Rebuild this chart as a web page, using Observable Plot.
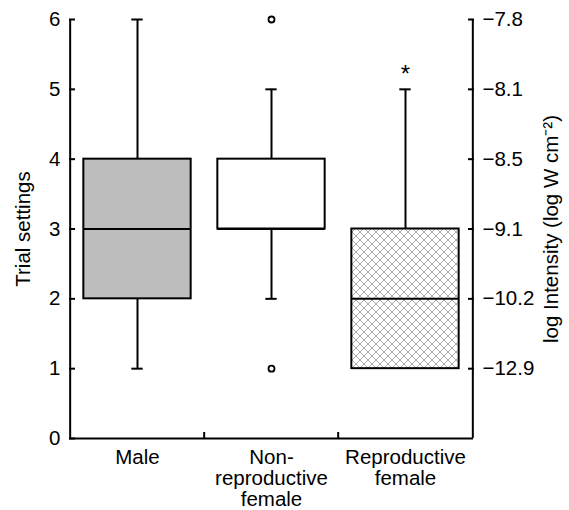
<!DOCTYPE html>
<html>
<head>
<meta charset="utf-8">
<script src="https://cdn.jsdelivr.net/npm/d3@7"></script>
<script src="https://cdn.jsdelivr.net/npm/@observablehq/plot@0.6"></script>
<style>
  html, body { margin: 0; padding: 0; background: white; }
</style>
</head>
<body>
<script>
const categories = ["Male", "Non-reproductive female", "Reproductive female"];
const categoryLabels = ["Male", "Non-\nreproductive\nfemale", "Reproductive\nfemale"];
const q1 = [2, 3, 1];
const median = [3, 3, 2];
const q3 = [4, 4, 3];
const whiskerLow = [1, 2, 1];
const whiskerHigh = [6, 5, 5];
const outlierGroup = ["Non-reproductive female", "Non-reproductive female"];
const outlierValue = [6, 1];
const significant = ["Reproductive female"];
const leftTicks = [0, 1, 2, 3, 4, 5, 6];
const rightTicks = [1, 2, 3, 4, 5, 6];
const rightTickLabels = ["\u221212.9", "\u221210.2", "\u22129.1", "\u22128.5", "\u22128.1", "\u22127.8"];

const boxes = categories.map((c, i) => ({
  cat: c, q1: q1[i], median: median[i], q3: q3[i], lo: whiskerLow[i], hi: whiskerHigh[i]
}));
const outliers = outlierGroup.map((g, i) => ({cat: g, v: outlierValue[i]}));

const W = 569, H = 510;
const mL = 69, mR = 96, mT = 19, mB = 72;
const step = (W - mL - mR) / categories.length;
const boxW = 108, capW = 12;
const boxInset = (step - boxW) / 2;
const capInset = (step - capW) / 2;
const FS = 20.5;

const hatchDefs = () => {
  const defs = document.createElementNS("http://www.w3.org/2000/svg", "defs");
  defs.innerHTML = `<pattern id="hatch" patternUnits="userSpaceOnUse" width="8" height="8">
    <rect width="8" height="8" fill="white"/>
    <path d="M0,0L8,8M8,0L0,8M-1,7L1,9M7,-1L9,1M-1,1L1,-1M7,9L9,7" stroke="#a0a0a0" stroke-width="0.9"/>
  </pattern>`;
  return defs;
};

const plot = Plot.plot({
  width: W,
  height: H,
  marginLeft: mL,
  marginRight: mR,
  marginTop: mT,
  marginBottom: mB,
  style: {fontFamily: "'Liberation Sans', Arial, Helvetica, sans-serif", fontSize: FS + "px", background: "white", color: "black"},
  x: {type: "band", domain: categories, padding: 0},
  y: {domain: [0, 6]},
  color: {type: "identity"},
  marks: [
    hatchDefs,
    // whiskers
    Plot.ruleX(boxes, {x: "cat", y1: "q3", y2: "hi", strokeWidth: 2}),
    Plot.ruleX(boxes, {x: "cat", y1: "lo", y2: "q1", strokeWidth: 2}),
    Plot.tickY(boxes, {x: "cat", y: "hi", insetLeft: capInset, insetRight: capInset, strokeWidth: 2}),
    Plot.tickY(boxes, {x: "cat", y: "lo", filter: d => d.lo < d.q1, insetLeft: capInset, insetRight: capInset, strokeWidth: 2}),
    // boxes
    Plot.barY(boxes, {
      x: "cat", y1: "q1", y2: "q3",
      fill: d => ({"Male": "#bdbdbd", "Non-reproductive female": "white", "Reproductive female": "url(#hatch)"})[d.cat],
      stroke: "black", strokeWidth: 2, insetLeft: boxInset, insetRight: boxInset
    }),
    Plot.tickY(boxes, {x: "cat", y: "median", insetLeft: boxInset, insetRight: boxInset, strokeWidth: 2}),
    // outliers
    Plot.dot(outliers, {x: "cat", y: "v", r: 3, stroke: "black", strokeWidth: 1.8, fill: "white"}),
    // significance marker
    Plot.text(significant, {
      x: d => d,
      y: d => whiskerHigh[categories.indexOf(d)] + 0.22,
      text: () => "*", fontSize: 24, lineAnchor: "middle"
    }),
    // frame lines (left, right, bottom)
    Plot.ruleY([0], {strokeWidth: 2}),
    Plot.ruleX([categories[0]], {y1: 0, y2: 6, dx: -step / 2, strokeWidth: 2}),
    Plot.ruleX([categories[categories.length - 1]], {y1: 0, y2: 6, dx: step / 2, strokeWidth: 2}),
    // left axis: inward ticks + labels
    Plot.axisY(leftTicks, {anchor: "left", tickSize: 6, dx: 6, fill: "none", strokeWidth: 2, label: null}),
    Plot.axisY(leftTicks, {anchor: "left", tickSize: 0, tickPadding: 9, tickFormat: d => String(d), label: null}),
    // right axis
    Plot.axisY(rightTicks, {anchor: "right", tickSize: 6, dx: -6, fill: "none", strokeWidth: 2, label: null}),
    Plot.axisY(rightTicks, {anchor: "right", tickSize: 0, tickPadding: 9,
      tickFormat: d => rightTickLabels[rightTicks.indexOf(d)], label: null}),
    // bottom boundary ticks (between categories)
    Plot.axisX(categories.slice(1), {anchor: "bottom", tickSize: 6, dy: -6, dx: -step / 2, fill: "none", strokeWidth: 2, label: null}),
    // category labels
    Plot.text(categories, {
      x: d => d, frameAnchor: "bottom", dy: 11, lineAnchor: "top", lineHeight: 1.02,
      textAnchor: "middle", text: d => categoryLabels[categories.indexOf(d)], fontSize: FS
    }),
    // axis titles
    Plot.text(["Trial settings"], {frameAnchor: "left", dx: -46, rotate: -90, textAnchor: "middle", lineAnchor: "middle", fontSize: FS, text: d => d}),
    Plot.text(["log Intensity (log W cm\u207B\u00B2)"], {frameAnchor: "right", dx: 78, rotate: -90, textAnchor: "middle", lineAnchor: "middle", fontSize: FS, text: d => d})
  ]
});

document.body.append(plot);
</script>
</body>
</html>
